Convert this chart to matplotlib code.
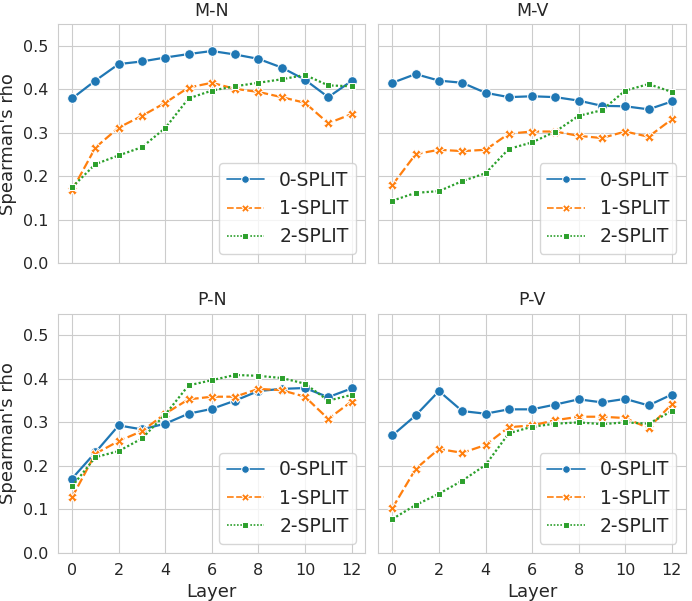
import matplotlib
matplotlib.use("Agg")
import matplotlib.pyplot as plt
import numpy as np
import pandas as pd
import seaborn as sns

# layers on the x axis
layers = list(range(13))
splits = ["0-SPLIT", "1-SPLIT", "2-SPLIT"]
panels = ["M-N", "M-V", "P-N", "P-V"]

# Spearman's rho per layer
mn_0 = [0.379, 0.420, 0.458, 0.464, 0.473, 0.481, 0.488, 0.480, 0.470, 0.450, 0.422, 0.382, 0.419]
mn_1 = [0.168, 0.266, 0.312, 0.339, 0.369, 0.404, 0.415, 0.401, 0.394, 0.382, 0.369, 0.322, 0.343]
mn_2 = [0.175, 0.228, 0.248, 0.267, 0.311, 0.379, 0.397, 0.407, 0.415, 0.423, 0.433, 0.409, 0.407]

mv_0 = [0.415, 0.435, 0.420, 0.415, 0.392, 0.382, 0.384, 0.382, 0.374, 0.362, 0.361, 0.354, 0.372]
mv_1 = [0.180, 0.251, 0.261, 0.258, 0.261, 0.298, 0.303, 0.303, 0.293, 0.288, 0.303, 0.291, 0.331]
mv_2 = [0.144, 0.162, 0.166, 0.189, 0.207, 0.263, 0.278, 0.303, 0.339, 0.352, 0.397, 0.412, 0.394]

pn_0 = [0.171, 0.231, 0.293, 0.284, 0.297, 0.320, 0.331, 0.350, 0.372, 0.377, 0.379, 0.358, 0.378]
pn_1 = [0.128, 0.228, 0.257, 0.280, 0.320, 0.353, 0.359, 0.359, 0.377, 0.374, 0.359, 0.308, 0.348]
pn_2 = [0.153, 0.220, 0.234, 0.263, 0.318, 0.385, 0.397, 0.409, 0.407, 0.402, 0.389, 0.350, 0.363]

pv_0 = [0.270, 0.316, 0.372, 0.326, 0.320, 0.330, 0.330, 0.341, 0.353, 0.346, 0.354, 0.339, 0.364]
pv_1 = [0.103, 0.193, 0.239, 0.230, 0.248, 0.289, 0.293, 0.305, 0.313, 0.313, 0.310, 0.287, 0.342]
pv_2 = [0.078, 0.110, 0.136, 0.166, 0.202, 0.275, 0.290, 0.297, 0.300, 0.296, 0.300, 0.297, 0.326]

panel_data = {
    "M-N": [mn_0, mn_1, mn_2],
    "M-V": [mv_0, mv_1, mv_2],
    "P-N": [pn_0, pn_1, pn_2],
    "P-V": [pv_0, pv_1, pv_2],
}

sns.set_style("whitegrid")
plt.rcParams['font.family'] = ['DejaVu Sans']

fig, axes = plt.subplots(2, 2, figsize=(6.92, 6.01), dpi=100, sharex=True, sharey=True)
fig.subplots_adjust(left=0.084, right=0.991, top=0.960, bottom=0.080, wspace=0.042, hspace=0.21)

for ax, name in zip(axes.flat, panels):
    rows = []
    for split, vals in zip(splits, panel_data[name]):
        for layer, v in zip(layers, vals):
            rows.append({"Layer": layer, "rho": v, "split": split})
    df = pd.DataFrame(rows)
    sns.lineplot(data=df, x="Layer", y="rho", hue="split", style="split",
                 markers=True, markersize=7, linewidth=1.6, ax=ax)
    ax.set_title(name, fontsize=12.5)
    ax.set_ylim(0, 0.55)
    ax.set_xticks(range(0, 13, 2))
    ax.set_yticks(np.arange(0, 0.51, 0.1))
    ax.tick_params(labelsize=11.5)
    ax.set_xlabel("Layer", fontsize=13)
    ax.set_ylabel("Spearman's rho", fontsize=13)
    if not ax.get_subplotspec().is_last_row():
        ax.set_xlabel("")
    if not ax.get_subplotspec().is_first_col():
        ax.set_ylabel("")
    leg = ax.legend(loc="lower right", fontsize=13.5, title=None,
                    handlelength=2.0, borderaxespad=0.5)
    for h in leg.get_lines():
        h.set_linewidth(1.2)
        h.set_markersize(5.5)

fig.savefig("out.png", dpi=100)
